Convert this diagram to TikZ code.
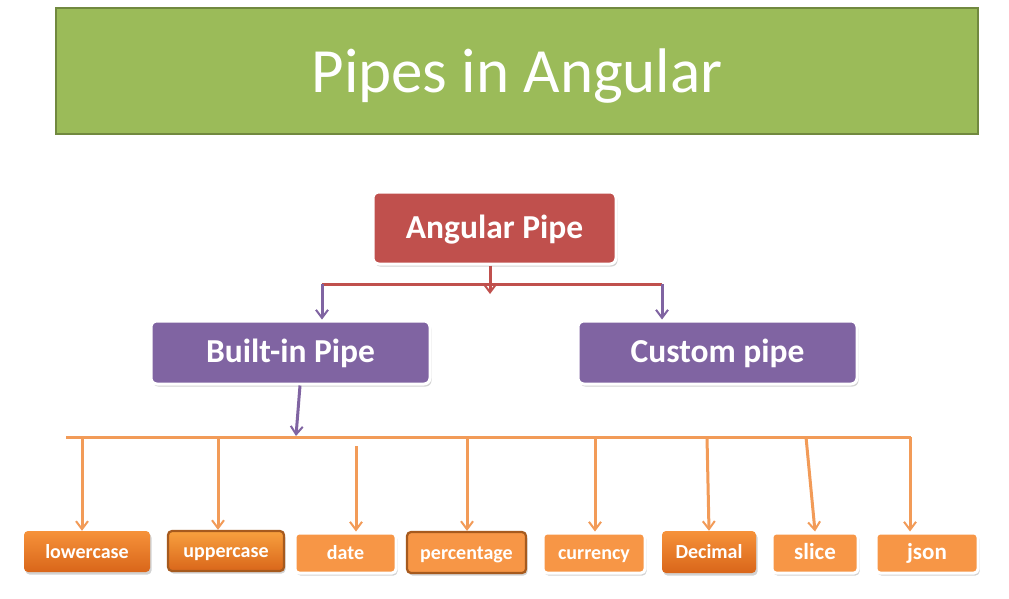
\documentclass[tikz,border=0pt]{standalone}
\usepackage{fontspec}
\setmainfont{Carlito}
\usetikzlibrary{arrows.meta,shadows,calc}
\definecolor{tgreen}{HTML}{9BBB59}
\definecolor{tgreenb}{HTML}{71893F}
\definecolor{tred}{HTML}{C0504D}
\definecolor{tpurple}{HTML}{8064A2}
\definecolor{torange}{HTML}{F79646}
\definecolor{torangel}{HTML}{F6923A}
\definecolor{toranged}{HTML}{D9661A}
\definecolor{tbrown}{HTML}{A65A1E}
\definecolor{tline}{HTML}{F29B58}
\tikzset{
  sh/.style={drop shadow={opacity=0.35,shadow xshift=1.5pt,shadow yshift=-2.5pt}},
  mainbox/.style={rounded corners=6pt,draw=white,line width=3pt,sh,text=white,font=\bfseries\fontsize{33.5}{38}\selectfont,inner sep=0pt,text height=26pt,text depth=6pt},
  leaf/.style={rounded corners=4pt,text=white,font=\bfseries\fontsize{20}{24}\selectfont,inner sep=0pt,sh,text height=16pt,text depth=3pt},
  leafw/.style={leaf,fill=torange,draw=white,line width=3pt},
  leafg/.style={leaf,top color=torangel,bottom color=toranged,draw=none},
  leafb/.style={leaf,draw=tbrown,line width=2.2pt},
  tip/.style={-{Straight Barb[length=8pt,width=12pt,line width=2pt]}},
  rline/.style={draw=tred,line width=3pt},
  pline/.style={draw=tpurple,line width=3pt},
  oline/.style={draw=tline,line width=3pt},
}
\begin{document}
\begin{tikzpicture}[x=1pt,y=-1pt]
\useasboundingbox (0,0) rectangle (1009,598);
\fill[white] (0,0) rectangle (1009,598);
% title
\node[fill=tgreen,draw=tgreenb,line width=2.5pt,minimum width=922pt,minimum height=126pt,text=white,font=\fontsize{63}{70}\selectfont,inner sep=0pt,text height=48pt,text depth=6pt] (title) at (517,71) {Pipes in Angular};
% main nodes
\node[mainbox,fill=tred,minimum width=243pt,minimum height=72pt] (ap) at (494.5,228) {Angular Pipe};
\node[mainbox,fill=tpurple,minimum width=279pt,minimum height=63pt] (bi) at (290.5,352.5) {Built-in Pipe};
\node[mainbox,fill=tpurple,minimum width=279pt,minimum height=63pt] (cp) at (717.5,352.5) {Custom pipe};
% leaves
\node[leafg,minimum width=126pt,minimum height=41pt] (lc) at (87,551.5) {lowercase};
\node[leafb,top color=torange!90!yellow,bottom color=toranged,minimum width=116pt,minimum height=40pt] (uc) at (226,551) {uppercase};
\node[leafw,minimum width=101pt,minimum height=40pt] (dt) at (345.5,553) {date};
\node[leafb,fill=torange,minimum width=119pt,minimum height=41pt] (pc) at (466.5,552.5) {percentage};
\node[leafw,minimum width=102pt,minimum height=40pt] (cu) at (594,553) {currency};
\node[leafg,minimum width=94pt,minimum height=42pt] (dc) at (709,552) {Decimal};
\node[leafw,font=\bfseries\fontsize{23}{26}\selectfont,minimum width=86pt,minimum height=40pt] (sl) at (815,553) {slice};
\node[leafw,font=\bfseries\fontsize{23}{26}\selectfont,minimum width=102pt,minimum height=40pt] (js) at (927,553) {json};
% connectors level 1
\coordinate (rl) at (322,284);
\coordinate (rr) at (662,284);
\coordinate (rt) at (490,294);
\draw[rline] (rl) -- (rr);
\draw[rline,tip] (ap.south -| rt) -- (rt);
\draw[pline,tip] (rl) -- (bi.north -| rl);
\draw[pline,tip] (rr) -- (cp.north -| rr);
% connectors level 2
\coordinate (bl) at (66,437);
\coordinate (br) at (911,437);
\coordinate (bt) at (296,436);
\draw[pline,tip] ($(bi.south)+(9.5,0)$) -- (bt);
\draw[oline] (bl) -- (br);
\draw[oline,tip] (82,437) -- (lc.north -| 82,0);
\draw[oline,tip] (218,437) -- (uc.north -| 218,0);
\draw[oline,tip] (356,446) -- (dt.north -| 356,0);
\draw[oline,tip] (467,437) -- (pc.north -| 467,0);
\draw[oline,tip] (595,437) -- (cu.north -| 595,0);
\draw[oline,tip] (707,437) -- (dc.north -| 709,0);
\draw[oline,tip] (806,437) -- (sl.north -| 815,0);
\draw[oline,tip] (910,437) -- (js.north -| 910,0);
\end{tikzpicture}
\end{document}
